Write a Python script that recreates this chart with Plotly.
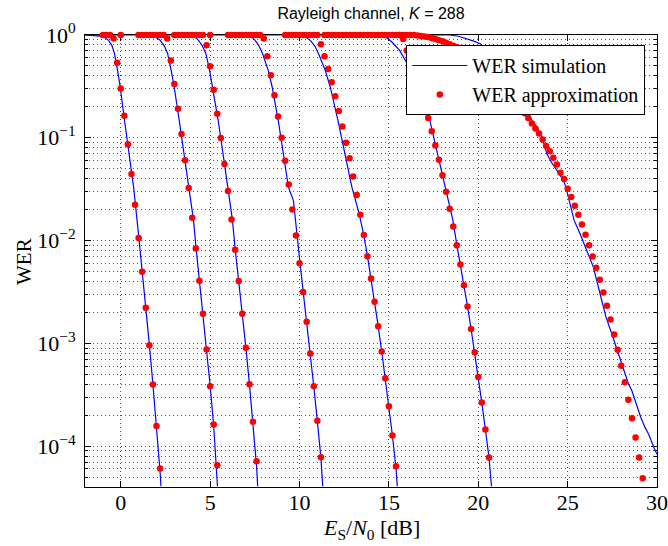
import plotly.graph_objects as go

# ---------------- simulated WER curves (Es/N0 in dB, WER) ----------------
sim1_x = [-2.0, -1.5, -1.15, -0.9, -0.68, -0.5, -0.35, -0.18, -0.03, 0.21, 0.48, 0.72,
          1.0, 1.2, 1.4, 1.6, 1.8, 2.0, 2.2, 2.25]
sim1_wer = [1, 0.995, 0.977, 0.944, 0.887, 0.794, 0.661, 0.453, 0.312, 0.148, 0.0700, 0.0331,
            0.0112, 5.13e-3, 2.29e-3, 9.77e-4, 3.98e-4, 1.58e-4, 5.62e-5, 4.07e-5]

sim2_x = [-2.0, 1.65, 1.9, 2.2, 2.45, 2.62, 2.82, 2.99, 3.27, 3.55, 3.81, 4.07,
          4.2, 4.4, 4.6, 4.8, 5.0, 5.2, 5.36, 5.41]
sim2_wer = [1, 1, 0.973, 0.891, 0.776, 0.661, 0.453, 0.312, 0.148, 0.0700, 0.0331, 0.0158,
            8.91e-3, 4.17e-3, 2.0e-3, 8.91e-4, 3.89e-4, 1.58e-4, 5.62e-5, 4.07e-5]

sim3_x = [2.0, 3.9, 4.1, 4.35, 4.55, 4.76, 4.97, 5.13, 5.45, 5.72, 5.97, 6.25,
          6.4, 6.6, 6.8, 7.0, 7.2, 7.4, 7.6, 7.66]
sim3_wer = [1, 1, 0.973, 0.887, 0.794, 0.661, 0.453, 0.312, 0.148, 0.0700, 0.0331, 0.0158,
            8.32e-3, 4.07e-3, 1.95e-3, 9.12e-4, 3.98e-4, 1.70e-4, 6.31e-5, 4.07e-5]

sim4_x = [5.0, 7.06, 7.3, 7.52, 7.73, 7.93, 8.25, 8.47, 8.81, 9.1, 9.38, 9.66,
          9.8, 10.0, 10.2, 10.4, 10.6, 10.8, 11.0, 11.2, 11.3]
sim4_wer = [1, 1, 0.966, 0.887, 0.785, 0.661, 0.453, 0.312, 0.148, 0.0700, 0.0331, 0.0245,
            0.0135, 6.76e-3, 3.24e-3, 1.62e-3, 7.94e-4, 3.80e-4, 1.74e-4, 7.59e-5, 4.07e-5]

sim5_x = [8.0, 9.95, 10.3, 10.6, 10.85, 11.06, 11.44, 11.72, 12.15, 12.54, 12.93, 13.34,
          13.6, 13.8, 14.0, 14.2, 14.4, 14.6, 14.8, 15.0, 15.2, 15.4, 15.47]
sim5_wer = [1, 1, 0.966, 0.887, 0.785, 0.661, 0.453, 0.312, 0.148, 0.0700, 0.0331, 0.0182,
            0.0112, 7.08e-3, 4.27e-3, 2.51e-3, 1.48e-3, 8.32e-4, 4.57e-4, 2.45e-4, 1.26e-4,
            6.03e-5, 4.07e-5]

sim6_x = [11.0, 14.5, 14.85, 15.17, 15.6, 16.0, 16.5, 17.12, 17.72, 18.15, 18.58,
          18.8, 19.0, 19.2, 19.4, 19.6, 19.8, 20.0, 20.2, 20.4, 20.6, 20.74]
sim6_wer = [1, 1, 0.944, 0.855, 0.708, 0.537, 0.355, 0.200, 0.0700, 0.0331, 0.0158,
            9.12e-3, 5.89e-3, 3.72e-3, 2.29e-3, 1.38e-3, 8.13e-4, 4.68e-4, 2.63e-4, 1.45e-4,
            7.76e-5, 4.07e-5]

sim7_x = [14.0, 18.4, 18.9, 19.36, 19.75, 20.1, 20.6, 21.0, 21.5, 22.0, 22.44, 23.0,
          23.28, 23.56, 23.84, 24.1, 24.4, 24.77, 24.9, 25.14, 25.36, 25.7, 26.0, 26.44,
          26.91, 27.15, 27.47, 27.79, 28.08, 28.4, 28.59, 28.77, 29.09, 29.33, 29.52, 29.9, 30.0]
sim7_wer = [1, 1, 0.973, 0.923, 0.871, 0.824, 0.676, 0.537, 0.398, 0.288, 0.215, 0.148,
            0.127, 0.102, 0.0700, 0.0575, 0.0482, 0.0385, 0.0331, 0.0228, 0.0158, 0.0116,
            8.71e-3, 5.51e-3, 2.61e-3, 1.79e-3, 1.24e-3, 8.51e-4, 5.85e-4, 4.04e-4, 3.47e-4,
            2.77e-4, 1.91e-4, 1.52e-4, 1.32e-4, 9.04e-5, 8.32e-5]

# ---------------- approximated WER (0.2 dB grid) ----------------
apx1_x = [-1.0, -0.8, -0.6, -0.4, -0.2, 0.0, 0.2, 0.4, 0.6, 0.8, 1.0, 1.2, 1.4, 1.6, 1.8,
          2.0, 2.2]
apx1_wer = [1, 1, 1, 0.923, 0.538, 0.301, 0.164, 0.0863, 0.0444, 0.0223, 0.0106, 4.97e-3,
            2.22e-3, 9.59e-4, 3.97e-4, 1.57e-4, 6.04e-5]

apx2_x = [0.0, 1.0, 1.2, 1.4, 1.6, 1.8, 2.0, 2.2, 2.4, 2.6, 2.8, 3.0, 3.2, 3.4, 3.6, 3.8,
          4.0, 4.2, 4.4, 4.6, 4.8, 5.0, 5.2, 5.4]
apx2_wer = [1, 1, 1, 1, 1, 1, 1, 1, 1, 0.923, 0.564, 0.333, 0.192, 0.109, 0.0603, 0.0324,
            0.0167, 8.38e-3, 4.06e-3, 1.94e-3, 8.71e-4, 3.82e-4, 1.62e-4, 6.5e-5]

apx3_x = [3.0, 3.2, 3.4, 3.6, 3.8, 4.0, 4.2, 4.4, 4.6, 4.8, 5.0, 5.2, 5.4, 5.6, 5.8, 6.0,
          6.2, 6.4, 6.6, 6.8, 7.0, 7.2, 7.4, 7.6]
apx3_wer = [1, 1, 1, 1, 1, 1, 1, 1, 1, 0.794, 0.496, 0.294, 0.171, 0.0993, 0.0555, 0.0303,
            0.0160, 8.13e-3, 4.03e-3, 1.94e-3, 9.04e-4, 4.0e-4, 1.73e-4, 7.11e-5]

apx4_x = [5.0, 6.0, 6.2, 6.4, 6.6, 6.8, 7.0, 7.2, 7.4, 7.6, 7.8, 8.0, 8.2, 8.4, 8.6, 8.8,
          9.0, 9.2, 9.4, 9.6, 9.8, 10.0, 10.2, 10.4, 10.6, 10.8, 11.0, 11.2]
apx4_wer = [1, 1, 1, 1, 1, 1, 1, 1, 1, 1, 1, 0.923, 0.621, 0.406, 0.259, 0.161, 0.100,
            0.0598, 0.0352, 0.0201, 0.0112, 6.03e-3, 3.16e-3, 1.62e-3, 7.94e-4, 3.82e-4,
            1.76e-4, 7.78e-5]

apx5_x = [9.2, 9.4, 9.6, 9.8, 10.0, 10.2, 10.4, 10.6, 10.8, 11.0, 11.2, 11.4, 11.6, 11.8,
          12.0, 12.2, 12.4, 12.6, 12.8, 13.0, 13.2, 13.4, 13.6, 13.8, 14.0, 14.2, 14.4,
          14.6, 14.8, 15.0, 15.2, 15.4]
apx5_wer = [1, 1, 1, 1, 1, 1, 1, 1, 1, 1, 0.811, 0.621, 0.467, 0.346, 0.253, 0.182, 0.129,
            0.0895, 0.0631, 0.0421, 0.0277, 0.0178, 0.0113, 7.05e-3, 4.28e-3, 2.54e-3,
            1.47e-3, 8.32e-4, 4.57e-4, 2.44e-4, 1.27e-4, 6.35e-5]

apx6_x = [11.4, 11.6, 11.8, 12.0, 12.2, 12.4, 12.6, 12.8, 13.0, 13.2, 13.4, 13.6, 13.8,
          14.0, 14.2, 14.4, 14.6, 14.8, 15.0, 15.2, 15.4, 15.6, 15.8, 16.0, 16.2, 16.4,
          16.6, 16.8, 17.0, 17.2, 17.4, 17.6, 17.8, 18.0, 18.2, 18.4, 18.6, 18.8, 19.0,
          19.2, 19.4, 19.6, 19.8, 20.0, 20.2, 20.4, 20.6]
apx6_wer = [1, 1, 1, 1, 1, 1, 1, 1, 1, 1, 1, 1, 1, 1, 1, 1, 1, 1, 1, 1, 1, 1,
            0.912, 0.708, 0.562, 0.447, 0.347, 0.269, 0.208, 0.156, 0.116, 0.0843, 0.0612,
            0.0431, 0.0299, 0.0204, 0.0137, 9.02e-3, 5.85e-3, 3.68e-3, 2.28e-3, 1.38e-3,
            8.18e-4, 4.71e-4, 2.65e-4, 1.45e-4, 7.73e-5]

apx7_x = [15.6, 15.8, 16.0, 16.2, 16.4, 16.6, 16.8, 17.0, 17.2, 17.4, 17.6, 17.8, 18.0,
          18.2, 18.4, 18.6, 18.8, 19.0, 19.2, 19.4, 19.6, 19.8, 20.0, 20.2, 20.4, 20.6,
          20.8, 21.0, 21.2, 21.4, 21.6, 21.8, 22.0, 22.2, 22.4, 22.6, 22.8, 23.0, 23.2,
          23.4, 23.6, 23.8, 24.0, 24.2, 24.4, 24.6, 24.8, 25.0, 25.2, 25.4, 25.6, 25.8,
          26.0, 26.2, 26.4, 26.6, 26.8, 27.0, 27.2, 27.4, 27.6, 27.8, 28.0, 28.2, 28.4,
          28.6, 28.8, 29.0, 29.2]
apx7_wer = [1, 1, 1, 1, 1, 0.989, 0.977, 0.966, 0.955, 0.933, 0.912, 0.891, 0.871, 0.841,
            0.813, 0.785, 0.759, 0.724, 0.692, 0.661, 0.624, 0.589, 0.556, 0.519, 0.484,
            0.447, 0.412, 0.380, 0.347, 0.316, 0.285, 0.257, 0.232, 0.208, 0.188, 0.173,
            0.156, 0.138, 0.123, 0.110, 0.0964, 0.0830, 0.0738, 0.0640, 0.0551, 0.0457,
            0.0396, 0.0319, 0.0265, 0.0218, 0.0178, 0.0143, 0.0114, 9.02e-3, 7.00e-3,
            5.43e-3, 4.15e-3, 3.13e-3, 2.32e-3, 1.71e-3, 1.22e-3, 8.65e-4, 6.04e-4,
            4.18e-4, 2.82e-4, 1.87e-4, 1.21e-4, 7.73e-5, 4.86e-5]

x_ticks = [0, 5, 10, 15, 20, 25, 30]
y_ticks = [1e-4, 1e-3, 1e-2, 1e-1, 1]
y_tick_text = ["10<sup>\u22124</sup>", "10<sup>\u22123</sup>", "10<sup>\u22122</sup>",
               "10<sup>\u22121</sup>", "10<sup>0</sup>"]
y_minor = [k * 10.0 ** e for e in (-5, -4, -3, -2, -1) for k in range(2, 10)]

sims = [(sim1_x, sim1_wer), (sim2_x, sim2_wer), (sim3_x, sim3_wer), (sim4_x, sim4_wer),
        (sim5_x, sim5_wer), (sim6_x, sim6_wer), (sim7_x, sim7_wer)]
apxs = [(apx1_x, apx1_wer), (apx2_x, apx2_wer), (apx3_x, apx3_wer), (apx4_x, apx4_wer),
        (apx5_x, apx5_wer), (apx6_x, apx6_wer), (apx7_x, apx7_wer)]

SERIF = "Liberation Serif"
fig = go.Figure()

for i, (xs, ws) in enumerate(sims):
    fig.add_trace(go.Scatter(
        x=xs, y=ws, mode="lines", name="WER simulation", legendgroup="sim",
        showlegend=(i == 0), line=dict(color="#0000ff", width=1.2)))

for i, (xs, ws) in enumerate(apxs):
    fig.add_trace(go.Scatter(
        x=xs, y=ws, mode="markers", name="WER approximation", legendgroup="apx",
        showlegend=(i == 0), cliponaxis=False,
        marker=dict(color="#ff0000", size=6.5, line=dict(width=0))))

grid_kw = dict(showgrid=True, gridcolor="#555555", griddash="1px,3px", gridwidth=1)

fig.update_layout(
    width=668, height=546,
    margin=dict(l=85, r=11, t=35, b=59, autoexpand=False),
    paper_bgcolor="white", plot_bgcolor="white",
    showlegend=True,
    title=dict(text="Rayleigh channel, <i>K</i> = 288", x=0.5, xref="paper",
               y=1 - 13 / 546, yref="container", yanchor="middle",
               font=dict(family="Liberation Sans", size=16, color="black")),
    xaxis=dict(range=[-2, 30], tickvals=x_ticks, ticktext=[str(v) for v in x_ticks],
               ticks="inside", ticklen=6, tickwidth=1, tickcolor="black",
               showline=True, linecolor="black", linewidth=1, mirror="ticks",
               zeroline=False, layer="below traces", ticklabelstandoff=-4,
               automargin=False,
               tickfont=dict(family=SERIF, size=22, color="black"), **grid_kw),
    yaxis=dict(type="log", range=[-4.398, 0], tickvals=y_ticks, ticktext=y_tick_text,
               ticks="inside", ticklen=6, tickwidth=1, tickcolor="black",
               showline=True, linecolor="black", linewidth=1, mirror="ticks",
               zeroline=False, layer="below traces", ticklabelstandoff=4,
               automargin=False,
               tickfont=dict(family=SERIF, size=22, color="black"),
               minor=dict(tickmode="array", tickvals=y_minor, ticks="inside", ticklen=3,
                          tickcolor="black", **grid_kw),
               **grid_kw),
    legend=dict(x=(645 - 85) / 571.7, xanchor="right", y=1 - (45 - 35) / 452, yanchor="top",
                bgcolor="white", bordercolor="black", borderwidth=1,
                font=dict(family=SERIF, size=20, color="black"),
                itemwidth=55, tracegroupgap=0),
    annotations=[
        dict(text="<i>E</i><sub>S</sub>/<i>N</i><sub>0</sub> [dB]", xref="paper", yref="paper",
             x=0.5, y=-(529 - 487) / 452, xanchor="center", yanchor="middle", showarrow=False,
             font=dict(family=SERIF, size=22, color="black")),
        dict(text="WER", xref="paper", yref="paper", x=-(85 - 24) / 571.7, y=0.5,
             xanchor="center", yanchor="middle", textangle=-90, showarrow=False,
             font=dict(family=SERIF, size=21, color="black")),
    ],
)

fig.write_html("out.html")
